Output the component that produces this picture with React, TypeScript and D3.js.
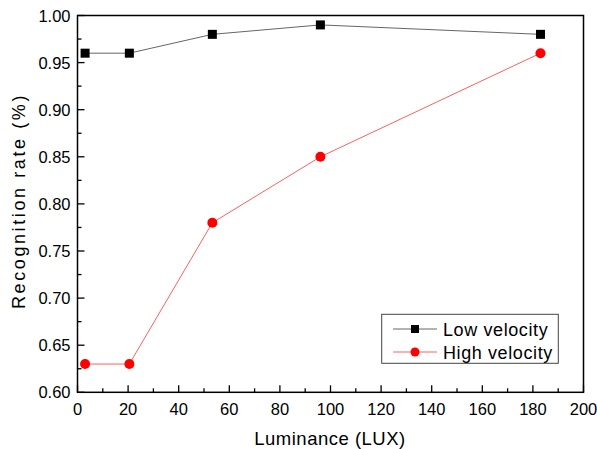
import React from "react";
import * as d3 from "d3";

const luminance = [3, 20.5, 53.3, 96, 183];
const lowVelocity = [0.96, 0.96, 0.98, 0.99, 0.98];
const highVelocity = [0.63, 0.63, 0.78, 0.85, 0.96];
const xTicks = [0, 20, 40, 60, 80, 100, 120, 140, 160, 180, 200];
const yTicks = [0.6, 0.65, 0.7, 0.75, 0.8, 0.85, 0.9, 0.95, 1.0];
const seriesNames = ["Low velocity", "High velocity"];

const W = 597, H = 449;
const L = 77.5, R = 583.5, T = 15.5, B = 392.3;
const font = "Arial, 'Liberation Sans', sans-serif";

export default function App() {
  const x = d3.scaleLinear().domain([0, 200]).range([L, R]);
  const y = d3.scaleLinear().domain([0.6, 1.0]).range([B, T]);
  const line = d3.line<[number, number]>().x(d => x(d[0])).y(d => y(d[1]));
  const lowPts = luminance.map((v, i) => [v, lowVelocity[i]] as [number, number]);
  const highPts = luminance.map((v, i) => [v, highVelocity[i]] as [number, number]);
  const xMinor = d3.range(10, 200, 20);
  const yMinor = d3.range(0.625, 1.0, 0.05);
  return (
    <svg width={W} height={H} style={{ position: "absolute", left: 0, top: 0, fontFamily: font }}>
      <rect x={0} y={0} width={W} height={H} fill="white" />
      {xTicks.map(t => (
        <g key={"xt" + t}>
          <line x1={x(t)} x2={x(t)} y1={B} y2={B - 7} stroke="black" strokeWidth={1.3} />
          <text x={x(t)} y={B + 23} fontSize={16.5} textAnchor="middle" fill="black">{t}</text>
        </g>
      ))}
      {xMinor.map(t => (
        <line key={"xm" + t} x1={x(t)} x2={x(t)} y1={B} y2={B - 4} stroke="black" strokeWidth={1.3} />
      ))}
      {yTicks.map(t => (
        <g key={"yt" + t}>
          <line x1={L} x2={L + 7} y1={y(t)} y2={y(t)} stroke="black" strokeWidth={1.3} />
          <text x={L - 7} y={y(t) + 6} fontSize={16.5} textAnchor="end" fill="black">{t.toFixed(2)}</text>
        </g>
      ))}
      {yMinor.map(t => (
        <line key={"ym" + t} x1={L} x2={L + 4} y1={y(t)} y2={y(t)} stroke="black" strokeWidth={1.3} />
      ))}
      <rect x={L} y={T} width={R - L} height={B - T} fill="none" stroke="black" strokeWidth={1.5} />
      <path d={line(lowPts) || ""} fill="none" stroke="#666" strokeWidth={1} />
      <path d={line(highPts) || ""} fill="none" stroke="#ff6060" strokeWidth={1} />
      {lowPts.map((p, i) => (
        <rect key={"lp" + i} x={x(p[0]) - 4.5} y={y(p[1]) - 4.5} width={9} height={9} fill="black" />
      ))}
      {highPts.map((p, i) => (
        <circle key={"hp" + i} cx={x(p[0])} cy={y(p[1])} r={5} fill="red" />
      ))}
      <rect x={381.7} y={314.3} width={176.6} height={49} fill="white" stroke="#444" strokeWidth={1} />
      <line x1={393} x2={437} y1={329} y2={329} stroke="#666" strokeWidth={1} />
      <rect x={415 - 4} y={329 - 4} width={8} height={8} fill="black" />
      <text x={443} y={335.5} fontSize={18} letterSpacing={0.6} fill="black">{seriesNames[0]}</text>
      <line x1={393} x2={437} y1={352} y2={352} stroke="#ff6060" strokeWidth={1} />
      <circle cx={415} cy={352} r={4.5} fill="red" />
      <text x={443} y={358.5} fontSize={18} letterSpacing={0.6} fill="black">{seriesNames[1]}</text>
      <text x={330} y={445} fontSize={18.5} letterSpacing={0.5} textAnchor="middle" fill="black">Luminance (LUX)</text>
      <text transform={`translate(25, 201) rotate(-90)`} fontSize={18} letterSpacing={2.6} textAnchor="middle" fill="black">Recognition rate (%)</text>
    </svg>
  );
}
